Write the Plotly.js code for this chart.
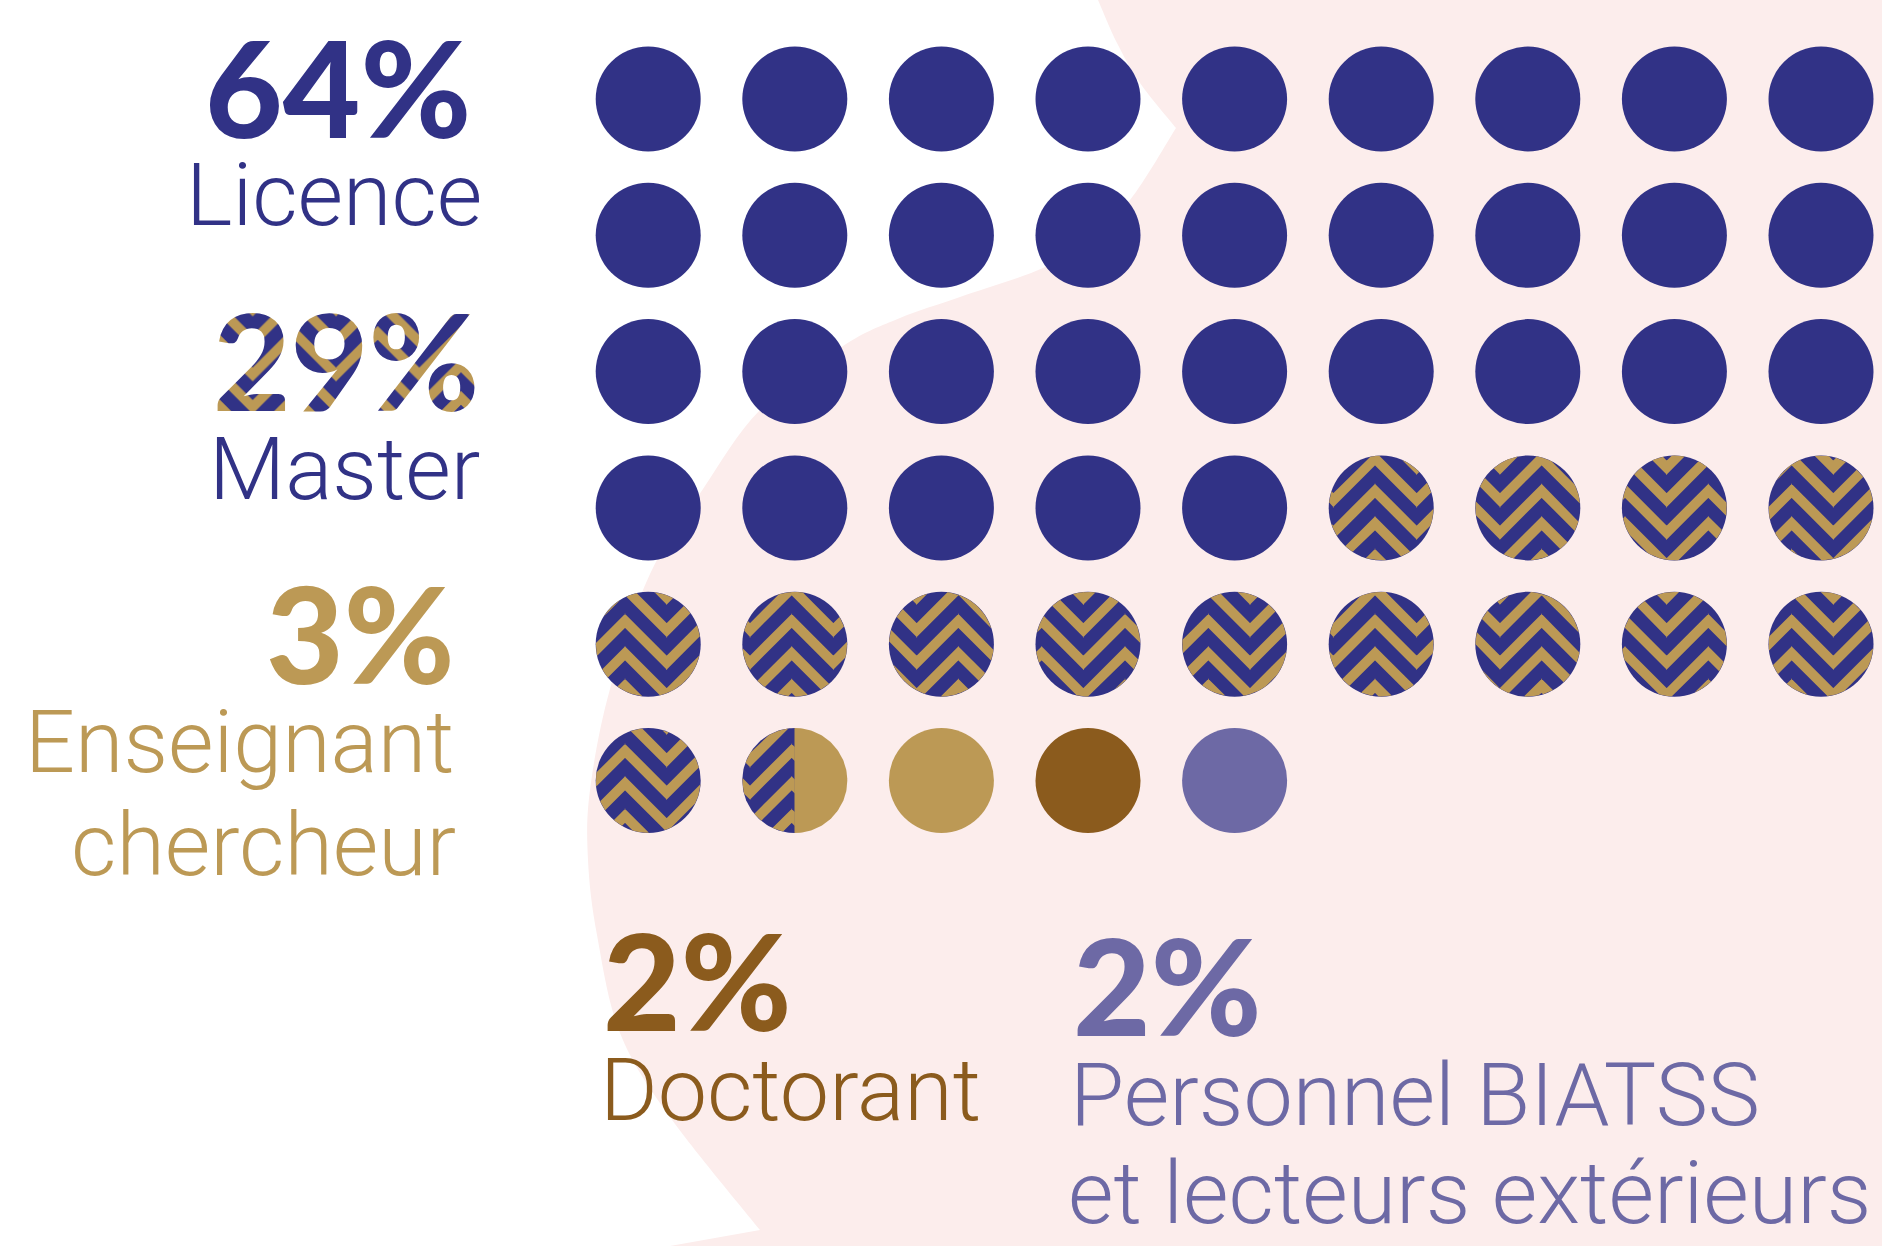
<!DOCTYPE html>
<html>
<head>
<meta charset="utf-8">
<script src="https://cdn.plot.ly/plotly-3.0.1.min.js"></script>
<style>
html,body{margin:0;padding:0;background:#ffffff;}
#chart{width:1882px;height:1246px;}
</style>
</head>
<body>
<svg width="0" height="0" style="position:absolute">
  <defs>
    <pattern id="chevText" patternUnits="userSpaceOnUse" width="83.33" height="32.5">
      <rect x="0" y="0" width="83.33" height="32.5" fill="#313286"></rect>
      <g fill="none" stroke="#bc9955" stroke-width="9.8" stroke-linejoin="miter">
        <path d="M-41.67,0 L0,-41.67 L41.67,0 L83.33,-41.67 L125,0"></path>
        <path d="M-41.67,32.5 L0,-9.17 L41.67,32.5 L83.33,-9.17 L125,32.5"></path>
        <path d="M-41.67,65 L0,23.33 L41.67,65 L83.33,23.33 L125,65"></path>
        <path d="M-41.67,97.5 L0,55.83 L41.67,97.5 L83.33,55.83 L125,97.5"></path>
      </g>
    </pattern>
  </defs>
</svg>
<div id="chart"></div>
<script>
// ---------------- DATA ----------------
const categories = ['Licence', 'Master', 'Enseignant chercheur', 'Doctorant', 'Personnel BIATSS et lecteurs extérieurs'];
const percents = [64, 29, 3, 2, 2];
const labelLines = [['Licence'], ['Master'], ['Enseignant', 'chercheur'], ['Doctorant'], ['Personnel BIATSS', 'et lecteurs extérieurs']];
const percentPerDot = 2;   // one dot = 2 %
const nCols = 9;

// ---------------- STYLE ----------------
const NAVY = '#313286', GOLD = '#bc9955', BROWN = '#8b5b1d', LAV = '#6d69a5', PINK = '#fcedec';
const catStyle = [
  {fill: NAVY, text: NAVY},
  {fill: NAVY, stripes: GOLD, text: NAVY, patternText: true},
  {fill: GOLD, text: GOLD},
  {fill: BROWN, text: BROWN},
  {fill: LAV, text: LAV}
];

// ---------------- GEOMETRY (pixels) ----------------
const W = 1882, H = 1246;
const COL0 = 648.2, COLSTEP = 146.6, ROW0 = 99, ROWSTEP = 136.3, DOT_R = 52.5;
const toX = px => (px - COL0) / COLSTEP;
const toY = py => (py - ROW0) / ROWSTEP;
const pxOfCol = c => COL0 + c * COLSTEP;
const pyOfRow = r => ROW0 + r * ROWSTEP;
const CHEV = {valley0: 666.7, period: 83.33, y0: 597.5, repeat: 32.5, band: 14};

// ---------------- CELLS ----------------
const dotsPerCat = percents.map(p => p / percentPerDot);
const totalDots = dotsPerCat.reduce((s, v) => s + v, 0);
const cells = [];
for (let i = 0; i < Math.ceil(totalDots); i++) cells.push({col: i % nCols, row: Math.floor(i / nCols), parts: []});
let cursor = 0;
dotsPerCat.forEach((n, ci) => {
  const start = cursor, end = cursor + n;
  for (let i = Math.floor(start); i < Math.ceil(end); i++) {
    const a = Math.max(start, i) - i, b = Math.min(end, i + 1) - i;
    if (b > a) cells[i].parts.push({cat: ci, a: a, b: b});
  }
  cursor = end;
});

// ---------------- CLIPPING HELPERS ----------------
function clipHalf(poly, nx, ny, c) {
  const out = [];
  for (let i = 0; i < poly.length; i++) {
    const P = poly[i], Q = poly[(i + 1) % poly.length];
    const dp = nx * P[0] + ny * P[1] - c, dq = nx * Q[0] + ny * Q[1] - c;
    if (dp <= 0) out.push(P);
    if ((dp <= 0) !== (dq <= 0)) {
      const t = dp / (dp - dq);
      out.push([P[0] + t * (Q[0] - P[0]), P[1] + t * (Q[1] - P[1])]);
    }
  }
  return out;
}
function clipToDot(poly, cx, cy, xa, xb, r) {
  let p = poly;
  const N = 120, rr = r * Math.cos(Math.PI / N);
  for (let i = 0; i < N && p.length; i++) {
    const phi = (2 * Math.PI * i + Math.PI) / N;
    const nx = Math.cos(phi), ny = Math.sin(phi);
    p = clipHalf(p, nx, ny, nx * cx + ny * cy + rr);
  }
  if (p.length) p = clipHalf(p, -1, 0, -xa);
  if (p.length) p = clipHalf(p, 1, 0, xb);
  return p;
}
function polyArea(p) {
  let s = 0;
  for (let i = 0; i < p.length; i++) { const a = p[i], b = p[(i + 1) % p.length]; s += a[0] * b[1] - b[0] * a[1]; }
  return Math.abs(s / 2);
}
function stripesFor(cx, cy, xa, xb) {
  const polys = [];
  const half = CHEV.period / 2, g = CHEV.band / 2, ext = 0.4;
  const mStart = Math.floor((cx - DOT_R - CHEV.valley0) / half) - 1;
  const mEnd = Math.ceil((cx + DOT_R - CHEV.valley0) / half) + 1;
  const kStart = Math.floor((cy - DOT_R - g - CHEV.y0) / CHEV.repeat) - 1;
  const kEnd = Math.ceil((cy + DOT_R + half + g - CHEV.y0) / CHEV.repeat) + 1;
  for (let m = mStart; m <= mEnd; m++) {
    const xs = CHEV.valley0 + m * half - ext, xe = CHEV.valley0 + (m + 1) * half + ext;
    const isValley = (((m % 2) + 2) % 2) === 0;
    const offS = isValley ? 0 : -half, offE = isValley ? -half : 0;
    const slope = (offE - offS) / (half);
    for (let k = kStart; k <= kEnd; k++) {
      const base = CHEV.y0 + k * CHEV.repeat;
      const ys = base + offS - slope * ext, ye = base + offE + slope * ext;
      const poly = [[xs, ys - g], [xe, ye - g], [xe, ye + g], [xs, ys + g]];
      const c = clipToDot(poly, cx, cy, xa, xb, DOT_R - 0.2);
      if (c.length >= 3 && polyArea(c) > 0.3) polys.push(c);
    }
  }
  return polys;
}
function discPart(cx, cy, xa, xb) {
  const N = 180, pts = [];
  for (let i = 0; i < N; i++) { const t = 2 * Math.PI * i / N; pts.push([cx + DOT_R * Math.cos(t), cy + DOT_R * Math.sin(t)]); }
  let p = clipHalf(pts, -1, 0, -xa);
  p = clipHalf(p, 1, 0, xb);
  return p;
}
function pushPolys(target, polys) {
  polys.forEach(p => {
    p.forEach(pt => { target.x.push(toX(pt[0])); target.y.push(toY(pt[1])); });
    target.x.push(null); target.y.push(null);
  });
}

// ---------------- TRACES ----------------
const markerSets = categories.map(() => ({x: [], y: []}));
const partSets = categories.map(() => ({x: [], y: []}));
const stripeSet = {x: [], y: []};

cells.forEach(cell => {
  const cx = pxOfCol(cell.col), cy = pyOfRow(cell.row);
  const full = cell.parts.length === 1 && cell.parts[0].a === 0 && cell.parts[0].b === 1;
  cell.parts.forEach(part => {
    const st = catStyle[part.cat];
    const xa = cx - DOT_R + 2 * DOT_R * part.a, xb = cx - DOT_R + 2 * DOT_R * part.b;
    if (full) {
      markerSets[part.cat].x.push(cell.col);
      markerSets[part.cat].y.push(cell.row);
    } else {
      pushPolys(partSets[part.cat], [discPart(cx, cy, xa - (part.a > 0 ? 0.3 : 0), xb + (part.b < 1 ? 0.3 : 0))]);
    }
    if (st.stripes) pushPolys(stripeSet, stripesFor(cx, cy, xa, xb));
  });
});

const traces = [];
categories.forEach((name, ci) => {
  if (markerSets[ci].x.length) traces.push({
    type: 'scatter', mode: 'markers', name: name, x: markerSets[ci].x, y: markerSets[ci].y,
    marker: {size: DOT_R * 2, color: catStyle[ci].fill, line: {width: 0}}, hoverinfo: 'skip', cliponaxis: false
  });
});
categories.forEach((name, ci) => {
  if (partSets[ci].x.length) traces.push({
    type: 'scatter', mode: 'lines', name: name + ' (part)', x: partSets[ci].x, y: partSets[ci].y,
    fill: 'toself', fillcolor: catStyle[ci].fill, line: {width: 0, color: catStyle[ci].fill}, hoverinfo: 'skip'
  });
});
traces.push({
  type: 'scatter', mode: 'lines', name: 'motif', x: stripeSet.x, y: stripeSet.y,
  fill: 'toself', fillcolor: GOLD, line: {width: 0, color: GOLD}, hoverinfo: 'skip'
});

// ---------------- BACKGROUND BLOB ----------------
function catmull(pts) {
  let d = '';
  for (let i = 0; i < pts.length - 1; i++) {
    const p0 = pts[Math.max(0, i - 1)], p1 = pts[i], p2 = pts[i + 1], p3 = pts[Math.min(pts.length - 1, i + 2)];
    const c1 = [p1[0] + (p2[0] - p0[0]) / 6, p1[1] + (p2[1] - p0[1]) / 6];
    const c2 = [p2[0] - (p3[0] - p1[0]) / 6, p2[1] - (p3[1] - p1[1]) / 6];
    d += ' C' + toX(c1[0]) + ',' + toY(c1[1]) + ' ' + toX(c2[0]) + ',' + toY(c2[1]) + ' ' + toX(p2[0]) + ',' + toY(p2[1]);
  }
  return d;
}
const blobA = [[1098, 0], [1117, 43], [1140, 83], [1176, 128]];
const blobB = [[1176, 128], [1130, 200], [1088, 238], [1043, 268], [960, 297], [900, 318], [843, 346], [760, 410], [703, 489], [650, 574], [610, 689], [590, 790], [588, 860], [597, 935], [620, 1033], [670, 1117], [760, 1230]];
const bgPath = 'M' + toX(1098) + ',' + toY(0) + catmull(blobA) + catmull(blobB) +
  ' L' + toX(670) + ',' + toY(1246) + ' L' + toX(1882) + ',' + toY(1246) + ' L' + toX(1882) + ',' + toY(0) + ' Z';

// ---------------- TEXT ----------------
const NUM_FONT = {family: 'Lato, Roboto, sans-serif', size: 134, weight: 900};
const LAB_FONT = {family: 'Roboto, Lato, sans-serif', size: 88, weight: 300};
const textPos = [
  {num: {x: 473, y: 86}, anchor: 'right', lines: [{x: 484, y: 194}]},
  {num: {x: 481, y: 359}, anchor: 'right', lines: [{x: 482, y: 468}]},
  {num: {x: 457, y: 632}, anchor: 'right', lines: [{x: 456, y: 741}, {x: 458, y: 844}]},
  {num: {x: 601, y: 979}, anchor: 'left', lines: [{x: 598, y: 1089}]},
  {num: {x: 1071, y: 984.5}, anchor: 'left', lines: [{x: 1068, y: 1094}, {x: 1066, y: 1246, yanchor: 'bottom'}]}
];
const annotations = [];
categories.forEach((name, ci) => {
  const pos = textPos[ci];
  annotations.push({
    xref: 'paper', yref: 'paper', x: pos.num.x / W, y: 1 - pos.num.y / H, xanchor: pos.anchor, yanchor: 'middle',
    text: percents[ci] + '%', showarrow: false, font: Object.assign({}, NUM_FONT, {color: catStyle[ci].text})
  });
  labelLines[ci].forEach((line, li) => {
    const lp = pos.lines[li];
    annotations.push({
      xref: 'paper', yref: 'paper', x: lp.x / W, y: 1 - lp.y / H, xanchor: pos.anchor, yanchor: lp.yanchor || 'middle',
      text: line, showarrow: false, font: Object.assign({}, LAB_FONT, {color: catStyle[ci].text})
    });
  });
});

const layout = {
  width: W, height: H, margin: {l: 0, r: 0, t: 0, b: 0},
  paper_bgcolor: '#ffffff', plot_bgcolor: 'rgba(0,0,0,0)', showlegend: false,
  xaxis: {range: [toX(0), toX(W)], visible: false, fixedrange: true},
  yaxis: {range: [toY(H), toY(0)], visible: false, fixedrange: true},
  shapes: [{type: 'path', xref: 'x', yref: 'y', path: bgPath, fillcolor: PINK, line: {width: 0}, layer: 'below'}],
  annotations: annotations
};

Plotly.newPlot('chart', traces, layout, {displayModeBar: false, staticPlot: true}).then(() => {
  document.querySelectorAll('.annotation-text').forEach(el => {
    const ci = percents.findIndex((p, i) => (p + '%') === el.textContent && catStyle[i].patternText);
    if (ci >= 0) el.style.fill = 'url(#chevText)';
  });
});
</script>
</body>
</html>
